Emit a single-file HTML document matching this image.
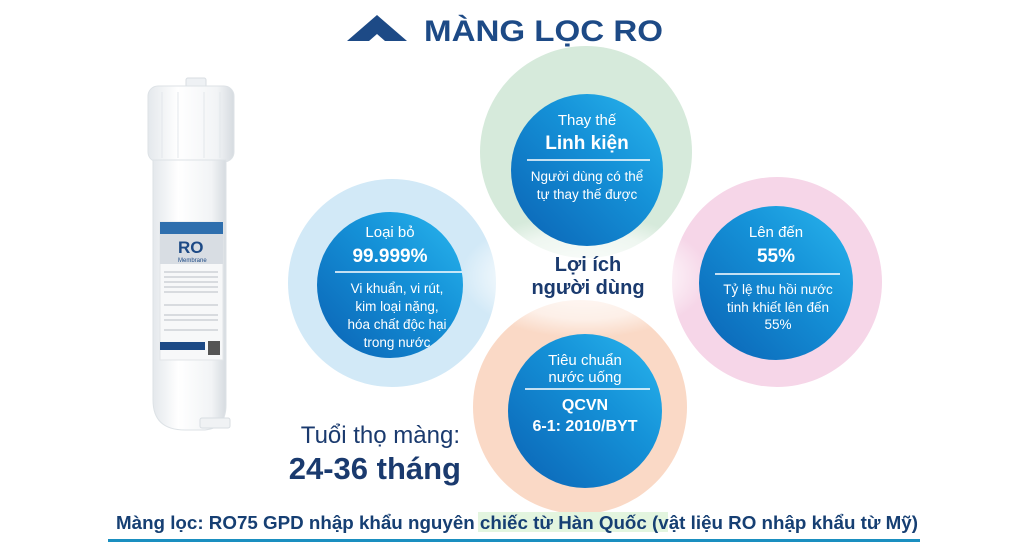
<!DOCTYPE html>
<html><head><meta charset="utf-8"><style>
html,body{margin:0;padding:0;background:#fff;}
body{width:1024px;height:550px;overflow:hidden;position:relative;font-family:"Liberation Sans","DejaVu Sans",sans-serif;}
</style></head><body>
<svg width="1024" height="550" viewBox="0 0 1024 550" xmlns="http://www.w3.org/2000/svg" style="position:absolute;left:0;top:0">
<defs>
<linearGradient id="b" x1="0" y1="1" x2="1" y2="0">
<stop offset="0" stop-color="#0a62b4"/><stop offset="0.6" stop-color="#1592d8"/><stop offset="1" stop-color="#2ab6ee"/>
</linearGradient>
<radialGradient id="glow" cx="0.5" cy="0.5" r="0.5">
<stop offset="0" stop-color="#fff" stop-opacity="0.95"/><stop offset="0.7" stop-color="#fff" stop-opacity="0.6"/><stop offset="1" stop-color="#fff" stop-opacity="0"/>
</radialGradient>
<linearGradient id="tube" x1="0" x2="1">
<stop offset="0" stop-color="#e4e8ec"/><stop offset="0.35" stop-color="#ffffff"/><stop offset="0.8" stop-color="#f2f4f6"/><stop offset="1" stop-color="#d6dbe0"/>
</linearGradient>
</defs>
<polygon points="347,41 377,15 407,41 385,41 377,34 369,41" fill="#1d4a86"/>
<text x="424" y="41" font-size="30" font-weight="bold" fill="#1d4a86" textLength="239" lengthAdjust="spacingAndGlyphs">MÀNG LỌC RO</text>

<circle cx="586" cy="152" r="106" fill="#d6eadb"/>
<circle cx="392" cy="283" r="104" fill="#d2e9f7"/>
<circle cx="777" cy="282" r="105" fill="#f6d6e8"/>
<circle cx="580" cy="407" r="107" fill="#fad9c6"/>
<ellipse cx="585" cy="276" rx="125" ry="62" fill="url(#glow)"/>

<circle cx="587" cy="170" r="76" fill="url(#b)"/>
<circle cx="390" cy="285" r="73" fill="url(#b)"/>
<circle cx="776" cy="283" r="77" fill="url(#b)"/>
<circle cx="585" cy="411" r="77" fill="url(#b)"/>

<g fill="#fff" text-anchor="middle">
<text x="587" y="125" font-size="15">Thay thế</text>
<text x="587" y="149" font-size="19" font-weight="bold">Linh kiện</text>
<line x1="527" y1="160" x2="650" y2="160" stroke="#fff" stroke-width="1.5"/>
<text x="587" y="181" font-size="13.5">Người dùng có thể</text>
<text x="587" y="199" font-size="13.5">tự thay thế được</text>

<text x="390" y="237" font-size="15">Loại bỏ</text>
<text x="390" y="262" font-size="19" font-weight="bold">99.999%</text>
<line x1="335" y1="272" x2="462" y2="272" stroke="#fff" stroke-width="1.5"/>
<text x="397" y="293" font-size="13.5">Vi khuẩn, vi rút,</text>
<text x="397" y="311" font-size="13.5">kim loại nặng,</text>
<text x="397" y="329" font-size="13.5">hóa chất độc hại</text>
<text x="397" y="347" font-size="13.5">trong nước</text>

<text x="776" y="237" font-size="15">Lên đến</text>
<text x="776" y="262" font-size="19" font-weight="bold">55%</text>
<line x1="715" y1="274" x2="840" y2="274" stroke="#fff" stroke-width="1.5"/>
<text x="778" y="294" font-size="13.5">Tỷ lệ thu hồi nước</text>
<text x="778" y="312" font-size="13.5">tinh khiết lên đến</text>
<text x="778" y="329" font-size="13.5">55%</text>

<text x="585" y="365" font-size="15">Tiêu chuẩn</text>
<text x="585" y="382" font-size="15">nước uống</text>
<line x1="525" y1="389" x2="650" y2="389" stroke="#fff" stroke-width="1.5"/>
<text x="585" y="410" font-size="16" font-weight="bold">QCVN</text>
<text x="585" y="431" font-size="16" font-weight="bold">6-1: 2010/BYT</text>
</g>

<g fill="#1a3a6e" text-anchor="middle">
<text x="588" y="271" font-size="20" font-weight="bold">Lợi ích</text>
<text x="588" y="294" font-size="20" font-weight="bold">người dùng</text>
</g>
<text x="460" y="443" font-size="24" fill="#1a3a6e" text-anchor="end">Tuổi thọ màng:</text>
<text x="461" y="479" font-size="31" font-weight="bold" fill="#1a3a6e" text-anchor="end">24-36 tháng</text>

<rect x="186" y="78" width="20" height="12" rx="2" fill="#eef1f4" stroke="#d8dde2"/>
<rect x="148" y="86" width="86" height="76" rx="10" fill="url(#tube)" stroke="#dde2e6"/>
<line x1="162" y1="92" x2="162" y2="158" stroke="#e3e7eb"/>
<line x1="178" y1="92" x2="178" y2="158" stroke="#e3e7eb"/>
<line x1="204" y1="92" x2="204" y2="158" stroke="#e3e7eb"/>
<line x1="220" y1="92" x2="220" y2="158" stroke="#e3e7eb"/>
<path d="M153,160 L226,160 L226,405 Q226,428 205,430 L185,430 Q153,430 153,400 Z" fill="url(#tube)" stroke="#dde2e6"/>
<rect x="200" y="418" width="30" height="10" rx="2" fill="#f0f2f4" stroke="#d8dde2"/>
<rect x="160" y="222" width="63" height="138" fill="#f7f8f9" stroke="#e2e5e8"/>
<rect x="160" y="222" width="63" height="12" fill="#2f6fae"/>
<rect x="160" y="234" width="63" height="30" fill="#d8dde3"/>
<text x="178" y="253" font-size="17" font-weight="bold" fill="#1d4a86">RO</text>
<text x="178" y="262" font-size="6" fill="#1d4a86">Membrane</text>
<g stroke="#b8bec5" stroke-width="1">
<line x1="164" y1="272" x2="218" y2="272"/><line x1="164" y1="277" x2="218" y2="277"/>
<line x1="164" y1="282" x2="218" y2="282"/><line x1="164" y1="287" x2="218" y2="287"/>
<line x1="164" y1="292" x2="218" y2="292"/><line x1="164" y1="305" x2="218" y2="305"/>
<line x1="164" y1="315" x2="218" y2="315"/><line x1="164" y1="320" x2="218" y2="320"/>
<line x1="164" y1="330" x2="218" y2="330"/>
</g>
<rect x="160" y="342" width="45" height="8" fill="#1d4a86"/>
<rect x="208" y="341" width="12" height="14" fill="#555"/>

<rect x="478" y="512" width="190" height="20" fill="#e3f5df"/>
<text x="116" y="529" font-size="18" font-weight="bold" fill="#163f73" textLength="802" lengthAdjust="spacingAndGlyphs">Màng lọc: RO75 GPD nhập khẩu nguyên chiếc từ Hàn Quốc (vật liệu RO nhập khẩu từ Mỹ)</text>
<rect x="108" y="539" width="812" height="3" fill="#1a8fc0"/>
</svg>
</body></html>
